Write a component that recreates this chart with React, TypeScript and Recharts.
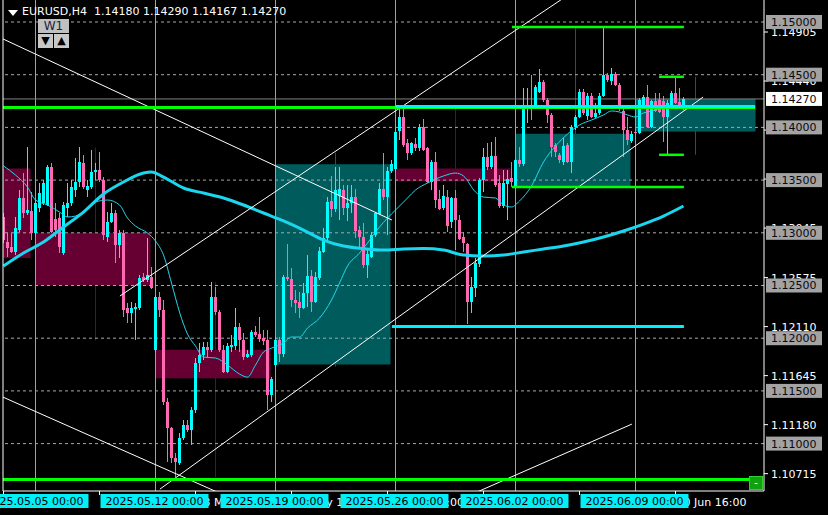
import React from "react";
import { ComposedChart, XAxis, YAxis, Bar, Line, ReferenceLine, ReferenceArea } from "recharts";

// H4 candles, bar 0 = 1 May 16:00, bar 8 = 5 May 00:00 ... bar 170 = current bar
const OPEN = [
  1.1315, 1.1291, 1.1287, 1.1282, 1.1303, 1.1333, 1.1319, 1.1321, 1.1300, 1.1324,
  1.1328, 1.1326, 1.1362, 1.1313, 1.1314, 1.1281, 1.1324, 1.1328, 1.1341, 1.1348,
  1.1366, 1.1341, 1.1343, 1.1358, 1.1360, 1.1350, 1.1296, 1.1310, 1.1319, 1.1288,
  1.1300, 1.1229, 1.1224, 1.1228, 1.1229, 1.1258, 1.1255, 1.1258, 1.1189, 1.1239,
  1.1227, 1.1139, 1.1115, 1.1086, 1.1082, 1.1105, 1.1118, 1.1113, 1.1132, 1.1176,
  1.1184, 1.1192, 1.1189, 1.1239, 1.1225, 1.1189, 1.1168, 1.1192, 1.1193, 1.1211,
  1.1198, 1.1182, 1.1184, 1.1206, 1.1204, 1.1200, 1.1198, 1.1146, 1.1175, 1.1198,
  1.1185, 1.1258, 1.1256, 1.1236, 1.1234, 1.1229, 1.1243, 1.1259, 1.1234, 1.1257,
  1.1282, 1.1295, 1.1330, 1.1323, 1.1335, 1.1341, 1.1324, 1.1328, 1.1334, 1.1303,
  1.1296, 1.1269, 1.1277, 1.1298, 1.1318, 1.1342, 1.1334, 1.1359, 1.1361, 1.1397,
  1.1410, 1.1385, 1.1376, 1.1384, 1.1380, 1.1400, 1.1380, 1.1348, 1.1367, 1.1332,
  1.1324, 1.1334, 1.1310, 1.1333, 1.1312, 1.1296, 1.1289, 1.1234, 1.1248, 1.1270,
  1.1350, 1.1372, 1.1362, 1.1373, 1.1347, 1.1325, 1.1346, 1.1352, 1.1344, 1.1369,
  1.1365, 1.1419, 1.1421, 1.1419, 1.1434, 1.1443, 1.1426, 1.1412, 1.1383, 1.1374,
  1.1367, 1.1383, 1.1367, 1.1400, 1.1410, 1.1434, 1.1411, 1.1430, 1.1410, 1.1414,
  1.1430, 1.1450, 1.1444, 1.1451, 1.1440, 1.1416, 1.1398, 1.1387, 1.1396, 1.1395,
  1.1419, 1.1429, 1.1400, 1.1425, 1.1426, 1.1425, 1.1410, 1.1421, 1.1433, 1.1424,
  1.1418,
];
const HIGH = [
  1.1319, 1.1300, 1.1300, 1.1315, 1.1341, 1.1357, 1.1381, 1.1339, 1.1331, 1.1347,
  1.1350, 1.1364, 1.1366, 1.1328, 1.1319, 1.1329, 1.1347, 1.1350, 1.1371, 1.1381,
  1.1374, 1.1350, 1.1379, 1.1366, 1.1377, 1.1353, 1.1320, 1.1328, 1.1322, 1.1303,
  1.1303, 1.1233, 1.1234, 1.1233, 1.1260, 1.1262, 1.1295, 1.1268, 1.1241, 1.1244,
  1.1236, 1.1143, 1.1116, 1.1091, 1.1110, 1.1122, 1.1122, 1.1135, 1.1181, 1.1195,
  1.1196, 1.1196, 1.1253, 1.1249, 1.1227, 1.1194, 1.1195, 1.1203, 1.1229, 1.1214,
  1.1205, 1.1189, 1.1208, 1.1212, 1.1220, 1.1208, 1.1208, 1.1163, 1.1201, 1.1201,
  1.1260, 1.1289, 1.1267, 1.1246, 1.1244, 1.1252, 1.1279, 1.1265, 1.1263, 1.1287,
  1.1305, 1.1334, 1.1354, 1.1362, 1.1362, 1.1345, 1.1345, 1.1345, 1.1342, 1.1306,
  1.1309, 1.1284, 1.1301, 1.1320, 1.1347, 1.1376, 1.1362, 1.1369, 1.1399, 1.1419,
  1.1418, 1.1389, 1.1386, 1.1390, 1.1403, 1.1408, 1.1381, 1.1369, 1.1377, 1.1341,
  1.1345, 1.1341, 1.1334, 1.1341, 1.1317, 1.1301, 1.1290, 1.1258, 1.1276, 1.1352,
  1.1380, 1.1385, 1.1386, 1.1391, 1.1355, 1.1360, 1.1360, 1.1367, 1.1370, 1.1381,
  1.1437, 1.1437, 1.1450, 1.1440, 1.1455, 1.1445, 1.1428, 1.1414, 1.1385, 1.1376,
  1.1390, 1.1385, 1.1402, 1.1412, 1.1436, 1.1436, 1.1433, 1.1433, 1.1423, 1.1433,
  1.1494, 1.1452, 1.1456, 1.1453, 1.1442, 1.1418, 1.1410, 1.1397, 1.1402, 1.1428,
  1.1431, 1.1440, 1.1426, 1.1433, 1.1433, 1.1430, 1.1426, 1.1435, 1.1448, 1.1437,
  1.1429,
];
const LOW = [
  1.1290, 1.1277, 1.1281, 1.1279, 1.1301, 1.1314, 1.1317, 1.1293, 1.1297, 1.1320,
  1.1326, 1.1325, 1.1300, 1.1296, 1.1281, 1.1279, 1.1315, 1.1325, 1.1334, 1.1343,
  1.1342, 1.1334, 1.1342, 1.1350, 1.1348, 1.1293, 1.1291, 1.1309, 1.1271, 1.1276,
  1.1220, 1.1214, 1.1214, 1.1198, 1.1227, 1.1253, 1.1253, 1.1247, 1.1187, 1.1220,
  1.1137, 1.1083, 1.1082, 1.1068, 1.1080, 1.1103, 1.1111, 1.1099, 1.1129, 1.1168,
  1.1179, 1.1182, 1.1187, 1.1222, 1.1187, 1.1167, 1.1167, 1.1187, 1.1189, 1.1187,
  1.1179, 1.1181, 1.1182, 1.1201, 1.1196, 1.1194, 1.1132, 1.1139, 1.1173, 1.1177,
  1.1182, 1.1254, 1.1230, 1.1224, 1.1219, 1.1228, 1.1230, 1.1225, 1.1233, 1.1255,
  1.1281, 1.1293, 1.1315, 1.1320, 1.1312, 1.1317, 1.1311, 1.1319, 1.1295, 1.1287,
  1.1267, 1.1257, 1.1276, 1.1296, 1.1317, 1.1331, 1.1298, 1.1357, 1.1359, 1.1388,
  1.1381, 1.1369, 1.1374, 1.1378, 1.1378, 1.1378, 1.1347, 1.1341, 1.1324, 1.1322,
  1.1322, 1.1301, 1.1305, 1.1284, 1.1293, 1.1282, 1.1213, 1.1224, 1.1239, 1.1268,
  1.1339, 1.1360, 1.1361, 1.1343, 1.1324, 1.1324, 1.1312, 1.1343, 1.1342, 1.1362,
  1.1363, 1.1404, 1.1407, 1.1418, 1.1433, 1.1424, 1.1404, 1.1372, 1.1372, 1.1366,
  1.1364, 1.1366, 1.1357, 1.1398, 1.1409, 1.1412, 1.1407, 1.1409, 1.1409, 1.1412,
  1.1429, 1.1443, 1.1440, 1.1439, 1.1416, 1.1372, 1.1383, 1.1385, 1.1391, 1.1394,
  1.1418, 1.1399, 1.1399, 1.1415, 1.1414, 1.1386, 1.1374, 1.1420, 1.1422, 1.1418,
  1.14167,
];
const CLOSE = [
  1.1293, 1.1286, 1.1282, 1.1305, 1.1333, 1.1319, 1.1322, 1.1300, 1.1328, 1.1338,
  1.1347, 1.1362, 1.1301, 1.1303, 1.1287, 1.1326, 1.1328, 1.1343, 1.1348, 1.1367,
  1.1343, 1.1344, 1.1358, 1.1360, 1.1350, 1.1298, 1.1310, 1.1319, 1.1288, 1.1300,
  1.1227, 1.1224, 1.1229, 1.1230, 1.1257, 1.1255, 1.1260, 1.1248, 1.1239, 1.1227,
  1.1139, 1.1115, 1.1086, 1.1083, 1.1105, 1.1118, 1.1113, 1.1132, 1.1176, 1.1184,
  1.1192, 1.1189, 1.1239, 1.1225, 1.1189, 1.1168, 1.1193, 1.1194, 1.1211, 1.1198,
  1.1182, 1.1185, 1.1206, 1.1203, 1.1199, 1.1197, 1.1146, 1.1161, 1.1198, 1.1185,
  1.1258, 1.1256, 1.1236, 1.1233, 1.1229, 1.1243, 1.1259, 1.1234, 1.1258, 1.1283,
  1.1295, 1.1329, 1.1323, 1.1341, 1.1342, 1.1324, 1.1328, 1.1334, 1.1302, 1.1296,
  1.1269, 1.1280, 1.1298, 1.1319, 1.1342, 1.1334, 1.1359, 1.1365, 1.1396, 1.1410,
  1.1383, 1.1376, 1.1385, 1.1380, 1.1400, 1.1379, 1.1348, 1.1367, 1.1331, 1.1323,
  1.1335, 1.1306, 1.1333, 1.1312, 1.1294, 1.1290, 1.1234, 1.1249, 1.1271, 1.1350,
  1.1372, 1.1362, 1.1373, 1.1345, 1.1325, 1.1347, 1.1351, 1.1348, 1.1369, 1.1365,
  1.1419, 1.1421, 1.1419, 1.1438, 1.1443, 1.1426, 1.1412, 1.1381, 1.1377, 1.1369,
  1.1382, 1.1367, 1.1400, 1.1410, 1.1434, 1.1414, 1.1430, 1.1410, 1.1414, 1.1430,
  1.1450, 1.1445, 1.1451, 1.1440, 1.1417, 1.1398, 1.1388, 1.1394, 1.1395, 1.1426,
  1.1429, 1.1400, 1.1425, 1.1416, 1.1415, 1.1410, 1.1423, 1.1433, 1.1423, 1.1419,
  1.1427,
];

// moving averages read at sample bars
const MA_SLOW_X = [0, 5, 10, 15, 20, 25, 30, 35, 37, 40, 45, 50, 55, 60, 65, 70, 75, 80, 85, 90, 95, 100, 105, 110, 115, 120, 125, 130, 135, 140, 145, 150, 155, 160, 165, 170];
const MA_SLOW_V = [1.12685, 1.12808, 1.12912, 1.13055, 1.13197, 1.13368, 1.13482, 1.13567, 1.13577, 1.13529, 1.13425, 1.13377, 1.1333, 1.13264, 1.13188, 1.13112, 1.13026, 1.12931, 1.12874, 1.1285, 1.12836, 1.12846, 1.1285, 1.12836, 1.12789, 1.1278, 1.12789, 1.12818, 1.12846, 1.12874, 1.12912, 1.1296, 1.13017, 1.13083, 1.13159, 1.13254];
const MA_FAST_X = [0, 3, 6, 8, 11, 14, 16, 18, 21, 23, 26, 29, 31, 33, 36, 38, 40, 42, 44, 46, 48, 50, 53, 56, 59, 61, 63, 65, 67, 70, 72, 74, 76, 79, 82, 84, 86, 89, 91, 94, 96, 98, 101, 103, 106, 110, 113, 115, 118, 120, 123, 125, 127, 129, 132, 135, 138, 141, 144, 147, 150, 152, 154, 156, 158, 160, 162, 165, 168, 170];
const MA_FAST_V = [1.13634, 1.13548, 1.13434, 1.13311, 1.13264, 1.13197, 1.1315, 1.13159, 1.13235, 1.13292, 1.13311, 1.13264, 1.1314, 1.13064, 1.12998, 1.12922, 1.12789, 1.12523, 1.12248, 1.12039, 1.11925, 1.11821, 1.11812, 1.11745, 1.1166, 1.11631, 1.11745, 1.11869, 1.11906, 1.11954, 1.12011, 1.12011, 1.12096, 1.12191, 1.12362, 1.12523, 1.12685, 1.12808, 1.12903, 1.13055, 1.1314, 1.13216, 1.1333, 1.13406, 1.13472, 1.13539, 1.13567, 1.13539, 1.13387, 1.13339, 1.1333, 1.13264, 1.13245, 1.13302, 1.13444, 1.13672, 1.13823, 1.13937, 1.14023, 1.1407, 1.14118, 1.14156, 1.14146, 1.14118, 1.14099, 1.14137, 1.14156, 1.14184, 1.14203, 1.14213];

// weekly candles overlaid (start bar of each week, width in bars)
const WEEK_START = [-22, 8, 38, 68, 98, 128, 158];
const WEEK_SPAN = [28.75, 28.75, 28.75, 28.75, 28.75, 28.75, 30];
const WEEK_OPEN = [1.1361, 1.13, 1.1189, 1.1175, 1.1361, 1.1344, 1.1396];
const WEEK_CLOSE = [1.1276, 1.125, 1.1162, 1.1365, 1.1349, 1.1394, 1.1427];
const WEEK_HIGH = [1.1425, 1.1381, 1.1253, 1.1376, 1.1419, 1.1494, 1.1448];
const WEEK_LOW = [1.1265, 1.1198, 1.1068, 1.1173, 1.1213, 1.1342, 1.1374];

const WEEK_LINES = [8, 38, 68, 98, 128, 158];
const WEEK_LABELS = ["2025.05.05 00:00", "2025.05.12 00:00", "2025.05.19 00:00", "2025.05.26 00:00", "2025.06.02 00:00", "2025.06.09 00:00"];

const TIME_TICKS = [0, 24, 48, 72, 96, 120, 144, 168];
const TIME_LABELS = ["1 May 16:00", "7 May 16:00", "13 May 16:00", "19 May 16:00", "23 May 16:00", "29 May 16:00", "4 Jun 16:00", "10 Jun 16:00"];

const PRICE_TICKS = [1.14905, 1.1444, 1.13975, 1.1351, 1.13045, 1.12575, 1.1211, 1.11645, 1.1118, 1.10715];
const ROUND_LEVELS = [1.15, 1.145, 1.14, 1.135, 1.13, 1.125, 1.12, 1.115, 1.11];
const BID = 1.1427;

// trend lines: [x1, y1, x2, y2] in bar index / price
const TRENDS = [
  [-0.125, 1.14839, 97.1, 1.13121],
  [-0.125, 1.11441, 56.6, 1.10487],
  [39.1, 1.10568, 174.9, 1.14288],
  [29.1, 1.124, 140.4, 1.15237],
  [116.6, 1.10511, 157.1, 1.11185],
];
// horizontal levels: [price, fromBar, toBar]
const GREEN_LEVELS = [
  [1.14189, -0.125, 187.9],
  [1.10659, -0.125, 187.9],
  [1.14953, 127.1, 170.1],
  [1.13434, 127.1, 170.1],
  [1.1448, 163.9, 170.1],
  [1.1374, 163.9, 170.1],
];
const CYAN_LEVELS = [
  [1.14198, 97.9, 187.9],
  [1.12111, 97.1, 170.1],
];

const X_MIN = -0.125;
const X_MAX = 190.125;
const Y_MIN = 1.105503;
const Y_MAX = 1.152087;

const BULL = "#00ffff";
const BEAR = "#ff69b4";
const FONT = "'DejaVu Sans', sans-serif";

const rows = OPEN.map((o, i) => ({ i, o, h: HIGH[i], l: LOW[i], c: CLOSE[i], range: [LOW[i], HIGH[i]] }));
const maSlow = MA_SLOW_X.map((i, k) => ({ i, v: MA_SLOW_V[k] }));
const maFast = MA_FAST_X.map((i, k) => ({ i, v: MA_FAST_V[k] }));

function Candle(props: any) {
  const { x, y, width, height, payload } = props;
  if (!payload || x == null) return null;
  const { o, h, l, c } = payload;
  const top = Math.min(y, y + height);
  const span = Math.abs(height);
  const k = h > l ? span / (h - l) : 0;
  const cx = Math.round(x + width / 2 - 0.5) + 0.5;
  const color = c >= o ? BULL : BEAR;
  const bTop = top + (h - Math.max(o, c)) * k;
  const bH = Math.max(1, Math.abs(o - c) * k);
  return (
    <g shapeRendering="crispEdges">
      <rect x={cx - 0.5} y={top} width={1} height={Math.max(1, span)} fill={color} />
      <rect x={cx - 1.5} y={bTop} width={3} height={bH} fill={color} />
    </g>
  );
}

function PriceTick(props: any) {
  const { x, y, payload } = props;
  return (
    <text x={x + 1} y={y + 4} fill="#fff" fontSize={11} fontFamily={FONT}>
      {Number(payload.value).toFixed(5)}
    </text>
  );
}

function TimeTick(props: any) {
  const { x, y, payload } = props;
  const k = TIME_TICKS.indexOf(payload.value);
  return (
    <text x={x + 1} y={y + 9} fill="#fff" fontSize={11} fontFamily={FONT}>
      {TIME_LABELS[k]}
    </text>
  );
}

function priceBox(text: string, bg: string) {
  return (p: any) => {
    const vb = p.viewBox;
    if (!vb) return null;
    const right = vb.x + vb.width;
    return (
      <g>
        <rect x={right + 2} y={vb.y - 7} width={56} height={14} fill={bg} />
        <text x={right + 7} y={vb.y + 4} fill="#0a0a14" fontSize={11} fontFamily={FONT}>
          {text}
        </text>
      </g>
    );
  };
}

function dateBox(text: string) {
  return (p: any) => {
    const vb = p.viewBox;
    if (!vb) return null;
    const cx = vb.x - 1;
    const by = vb.y + vb.height + 3;
    return (
      <g>
        <rect x={cx - 54} y={by} width={108} height={14} fill="#00f0f8" />
        <text x={cx} y={by + 11} textAnchor="middle" fill="#000" fontSize={11} fontFamily={FONT}>
          {text}
        </text>
      </g>
    );
  };
}

export default function App() {
  return (
    <div style={{ position: "relative", width: 828, height: 515, background: "#000", overflow: "hidden" }}>
      <style>{"body{margin:0;background:#000}"}</style>
      <ComposedChart width={828} height={515} data={rows} margin={{ top: 0, right: 0, bottom: 0, left: 3 }}>
        <XAxis
          dataKey="i"
          type="number"
          domain={[X_MIN, X_MAX]}
          allowDataOverflow
          ticks={TIME_TICKS}
          interval={0}
          height={24}
          axisLine={{ stroke: "#fff" }}
          tickLine={{ stroke: "#fff" }}
          tickSize={4}
          tick={TimeTick}
        />
        <YAxis
          orientation="right"
          type="number"
          domain={[Y_MIN, Y_MAX]}
          allowDataOverflow
          ticks={PRICE_TICKS}
          interval={0}
          width={64}
          axisLine={{ stroke: "#fff" }}
          tickLine={{ stroke: "#fff" }}
          tickSize={4}
          tick={PriceTick}
        />

        {/* weekly wicks */}
        {WEEK_START.map((s, k) => (
          <ReferenceLine
            key={"ww" + k}
            segment={[{ x: s + 15, y: WEEK_LOW[k] }, { x: s + 15, y: WEEK_HIGH[k] }]}
            stroke={WEEK_CLOSE[k] >= WEEK_OPEN[k] ? "#1f5656" : "#5a0d35"}
            strokeWidth={1}
            ifOverflow="hidden"
            zIndex={90}
          />
        ))}
        {/* weekly bodies */}
        {WEEK_START.map((s, k) => (
          <ReferenceArea
            key={"wb" + k}
            x1={s}
            x2={s + WEEK_SPAN[k]}
            y1={Math.min(WEEK_OPEN[k], WEEK_CLOSE[k])}
            y2={Math.max(WEEK_OPEN[k], WEEK_CLOSE[k])}
            fill={WEEK_CLOSE[k] >= WEEK_OPEN[k] ? "#005c5c" : "#660033"}
            fillOpacity={1}
            stroke="none"
            ifOverflow="hidden"
            zIndex={100}
          />
        ))}

        {ROUND_LEVELS.map((p) => (
          <ReferenceLine key={"rl" + p} y={p} stroke="#a8a8a8" strokeDasharray="3 3" zIndex={150} />
        ))}

        {WEEK_LINES.map((x) => (
          <ReferenceLine key={"wl" + x} x={x} stroke="#00e6f0" strokeWidth={1} zIndex={160} />
        ))}

        <ReferenceLine y={BID} stroke="#808080" strokeWidth={1} zIndex={170} />

        <Bar dataKey="range" barSize={3} shape={(p: any) => <Candle {...p} />} isAnimationActive={false} />

        <Line data={maFast} dataKey="v" type="monotone" stroke="#22d8ea" strokeWidth={1} dot={false} activeDot={false} isAnimationActive={false} />
        <Line data={maSlow} dataKey="v" type="monotone" stroke="#1ad6ee" strokeWidth={3} dot={false} activeDot={false} isAnimationActive={false} />

        {TRENDS.map((t, k) => (
          <ReferenceLine
            key={"tr" + k}
            segment={[{ x: t[0], y: t[1] }, { x: t[2], y: t[3] }]}
            stroke="#ffffff"
            strokeWidth={1}
            ifOverflow="hidden"
            zIndex={450}
          />
        ))}

        {GREEN_LEVELS.map((g, k) => (
          <ReferenceLine
            key={"gl" + k}
            segment={[{ x: g[1], y: g[0] }, { x: g[2], y: g[0] }]}
            stroke="#00ff00"
            strokeWidth={k < 2 ? 3 : 2.5}
            ifOverflow="hidden"
            zIndex={460}
          />
        ))}
        {CYAN_LEVELS.map((g, k) => (
          <ReferenceLine
            key={"cl" + k}
            segment={[{ x: g[1], y: g[0] }, { x: g[2], y: g[0] }]}
            stroke="#00f0ff"
            strokeWidth={3}
            ifOverflow="hidden"
            zIndex={470}
          />
        ))}
        <ReferenceLine x={X_MIN} stroke="#ffffff" strokeWidth={1} zIndex={480} />

        {/* axis label boxes, drawn above the axis tick texts */}
        {ROUND_LEVELS.map((p) => (
          <ReferenceLine key={"rb" + p} y={p} stroke="none" zIndex={2000} label={priceBox(p.toFixed(5), "#a3a3a3")} />
        ))}
        <ReferenceLine y={BID} stroke="none" zIndex={2000} label={priceBox(BID.toFixed(5), "#ffffff")} />
        {WEEK_LINES.map((x, k) => (
          <ReferenceLine key={"wbx" + x} x={x} stroke="none" zIndex={2000} label={dateBox(WEEK_LABELS[k])} />
        ))}
      </ComposedChart>

      {/* title */}
      <svg width={16} height={16} style={{ position: "absolute", left: 6, top: 6 }}>
        <polygon points="2,4 12,4 7,10" fill="#fff" />
      </svg>
      <div
        style={{
          position: "absolute",
          left: 22,
          top: 5,
          color: "#fff",
          fontFamily: FONT,
          fontSize: 11,
          lineHeight: "13px",
          whiteSpace: "pre",
        }}
      >
        {"EURUSD,H4  1.14180 1.14290 1.14167 1.14270"}
      </div>

      {/* timeframe buttons */}
      <div
        style={{
          position: "absolute",
          left: 38,
          top: 19,
          width: 31,
          height: 14,
          background: "#c0c0c0",
          color: "#1a2440",
          fontFamily: FONT,
          fontSize: 12,
          lineHeight: "14px",
          textAlign: "center",
        }}
      >
        W1
      </div>
      <div style={{ position: "absolute", left: 38, top: 34, width: 15, height: 14, background: "#c8c8c8", color: "#000", fontFamily: FONT, fontSize: 11, lineHeight: "14px", textAlign: "center" }}>
        ▼
      </div>
      <div style={{ position: "absolute", left: 54, top: 34, width: 15, height: 14, background: "#c8c8c8", color: "#000", fontFamily: FONT, fontSize: 11, lineHeight: "14px", textAlign: "center" }}>
        ▲
      </div>

      {/* collapse button */}
      <div
        style={{
          position: "absolute",
          left: 749,
          top: 476,
          width: 12,
          height: 12,
          background: "#10a010",
          border: "1px solid #30d030",
          color: "#fff",
          fontFamily: FONT,
          fontSize: 11,
          lineHeight: "11px",
          textAlign: "center",
        }}
      >
        -
      </div>
    </div>
  );
}
